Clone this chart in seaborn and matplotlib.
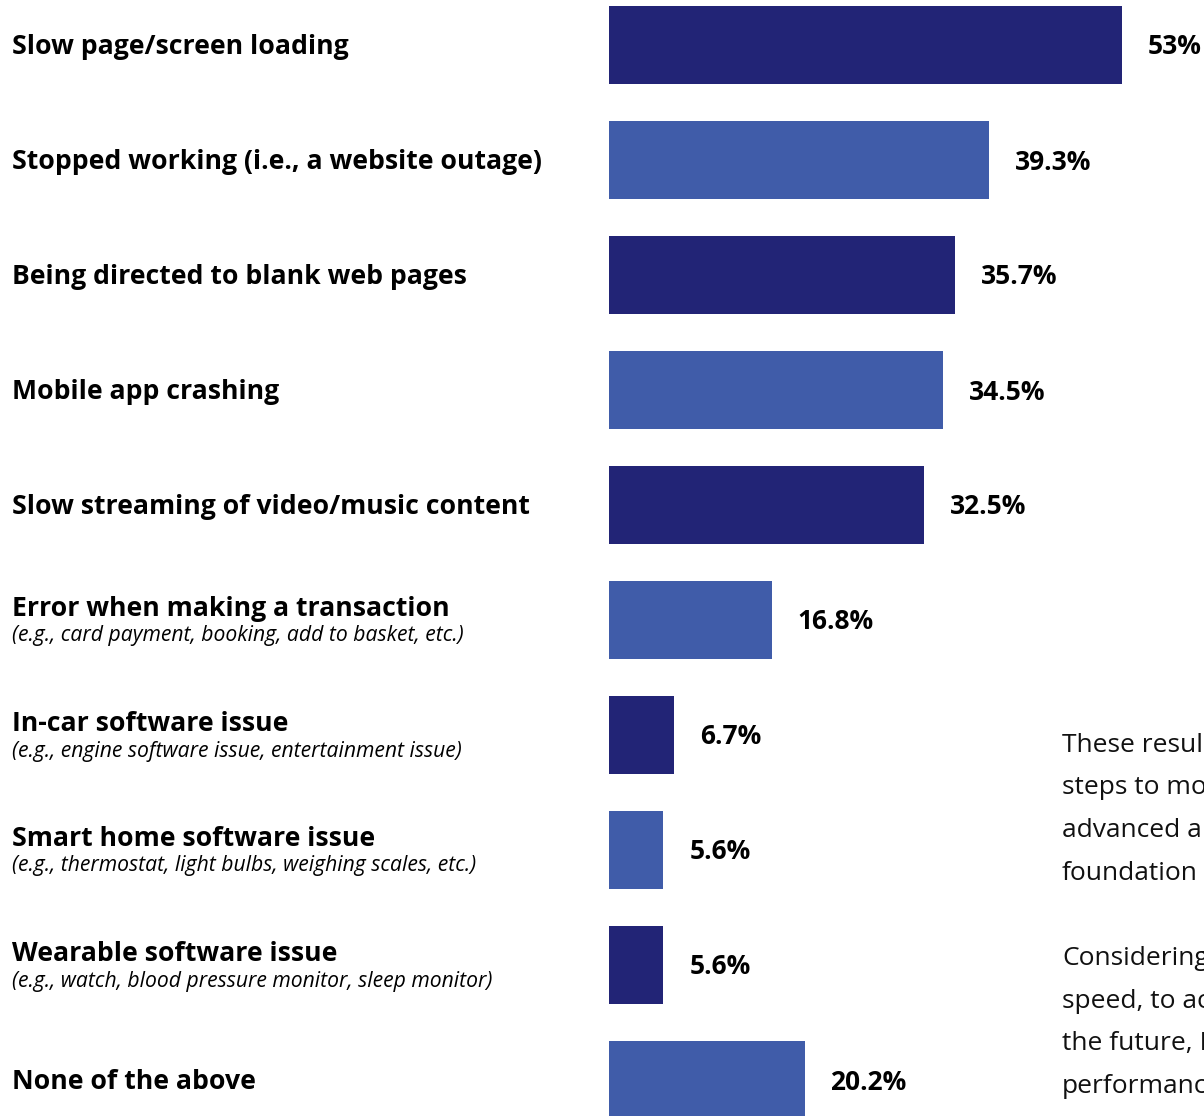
import matplotlib
matplotlib.use("Agg")
import matplotlib.pyplot as plt
import seaborn as sns
import pandas as pd

categories = [
    "Slow page/screen loading",
    "Stopped working (i.e., a website outage)",
    "Being directed to blank web pages",
    "Mobile app crashing",
    "Slow streaming of video/music content",
    "Error when making a transaction",
    "In-car software issue",
    "Smart home software issue",
    "Wearable software issue",
    "None of the above",
]
subtitles = [
    "", "", "", "", "",
    "(e.g., card payment, booking, add to basket, etc.)",
    "(e.g., engine software issue, entertainment issue)",
    "(e.g., thermostat, light bulbs, weighing scales, etc.)",
    "(e.g., watch, blood pressure monitor, sleep monitor)",
    "",
]
values = [53.0, 39.3, 35.7, 34.5, 32.5, 16.8, 6.7, 5.6, 5.6, 20.2]
value_labels = ["53%", "39.3%", "35.7%", "34.5%", "32.5%", "16.8%", "6.7%", "5.6%", "5.6%", "20.2%"]
side_text = ["These resul", "steps to mo", "advanced a", "foundation",
             "", "Considering", "speed, to ac", "the future, I", "performanc"]

DARK = "#222476"
LIGHT = "#405CA9"
palette = [DARK if i % 2 == 0 else LIGHT for i in range(len(categories))]

sns.set_theme(style="white")
plt.rcParams["font.family"] = ["Open Sans", "DejaVu Sans"]

W, H = 1204, 1116
fig = plt.figure(figsize=(W / 100, H / 100), dpi=100)
fig.patch.set_facecolor("white")

ax_left = 609
ax = fig.add_axes([ax_left / W, 0, (W - ax_left) / W, 1])
df = pd.DataFrame({"cat": categories, "val": values})
sns.barplot(data=df, x="val", y="cat", hue="cat", palette=palette, legend=False,
            orient="h", width=78 / 115, saturation=1, ax=ax, linewidth=0)

px_per_pct = (1122 - 609) / 53.0
ax.set_xlim(0, (W - ax_left) / px_per_pct)
row0, step = 45, 115
ax.set_ylim((H - row0) / step, -row0 / step)
ax.axis("off")

for i, (v, lab) in enumerate(zip(values, value_labels)):
    ax.text(v + 26 / px_per_pct, i + 2 / step, lab, ha="left", va="center",
            fontsize=19, fontweight="bold", color="black")

def fy(pix):
    return 1 - pix / H

for i, (c, s) in enumerate(zip(categories, subtitles)):
    yc = row0 + step * i
    if s:
        fig.text(12 / W, fy(yc - 11), c, ha="left", va="center",
                 fontsize=19.2, fontweight="bold", color="black")
        fig.text(12 / W, fy(yc + 16), s, ha="left", va="center",
                 fontsize=15.2, fontstyle="italic", color="black")
    else:
        fig.text(12 / W, fy(yc + 2), c, ha="left", va="center",
                 fontsize=19.2, fontweight="bold", color="black")

y0 = 745
for k, line in enumerate(side_text):
    if line:
        fig.text(1062 / W, fy(y0 + 42.7 * k), line, ha="left", va="center",
                 fontsize=19, color="#111111")

fig.savefig("out.png", dpi=100, facecolor="white")
